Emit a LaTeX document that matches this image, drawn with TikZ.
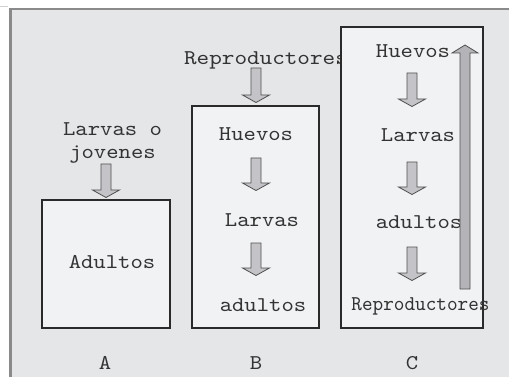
\documentclass[tikz,border=0pt]{standalone}
\usepackage{fontspec}
\newfontfamily\cour{lmmono10-regular.otf}[FakeStretch=1.12]
\definecolor{bgc}{HTML}{E5E6E8}
\definecolor{boxc}{HTML}{F1F2F4}
\definecolor{edgec}{HTML}{2A2A2A}
\definecolor{arrc}{HTML}{C4C4C8}
\definecolor{uparrc}{HTML}{B4B4B8}
\definecolor{arredge}{HTML}{505050}
\definecolor{framec}{HTML}{8A8A8A}
\definecolor{txtc}{HTML}{333333}
\tikzset{
  stagebox/.style={draw=edgec, fill=boxc, line width=1.3pt},
  lbl/.style={font=\cour\fontsize{21}{23}\selectfont, text=txtc, inner sep=0pt},
  blk/.style={draw=arredge, fill=arrc, line width=0.8pt, line join=miter},
  pics/downarr/.style={code={
    \draw[blk] (-5,0) -- (5,0) -- (5,#1) -- (13.5,#1) -- (0,#1+7.5) -- (-13.5,#1) -- (-5,#1) -- cycle;
  }}
}
\begin{document}
\begin{tikzpicture}[x=1pt,y=-1pt]
\useasboundingbox (0,0) rectangle (509,377);
% background panel and frame
\fill[bgc] (9,9) rectangle (509,377);
\draw[framec, line width=2pt] (9,9) -- (509,9);
\draw[framec, line width=3pt] (10.5,8) -- (10.5,377);
\draw[black!18, line width=1pt] (0,7) -- (8,7);

% ---- A ----
\node[lbl, align=center] (lA) at (112.5,143) {Larvas o\\[0pt]jovenes};
\pic at (106,164) {downarr=26};
\node[stagebox, minimum width=128pt, minimum height=128pt, inner sep=0pt] (bA) at (106,264) {};
\node[lbl] (aA) at (112,262) {Adultos};
\node[lbl] (capA) at (105,363) {A};

% ---- B ----
\node[lbl] (rB) at (266,60) {\scalebox{1.02}[1]{Reproductores}};
\pic at (256,68) {downarr=27};
\node[stagebox, minimum width=127pt, minimum height=222pt, inner sep=0pt] (bB) at (255.5,217) {};
\node[lbl] (hB) at (256,134) {Huevos};
\pic at (256,158) {downarr=25};
\node[lbl] (lB) at (262,220) {Larvas};
\pic at (256,243) {downarr=25};
\node[lbl] (aB) at (263,305) {adultos};
\node[lbl] (capB) at (256,363) {B};

% ---- C ----
\node[stagebox, minimum width=142pt, minimum height=301pt, inner sep=0pt] (bC) at (412,177.5) {};
\node[lbl] (hC) at (413,51) {Huevos};
\pic at (412,73) {downarr=26};
\node[lbl] (lC) at (418,135) {Larvas};
\pic at (412,162) {downarr=25};
\node[lbl] (aC) at (419,222) {adultos};
\pic at (412,247) {downarr=26};
\node[lbl] (rC) at (420.5,306) {\scalebox{0.86}[1]{Reproductores}};
\draw[blk, fill=uparrc] (460,289) -- (470,289) -- (470,53) -- (478,53) -- (465,45) -- (452,53) -- (460,53) -- cycle;
\node[lbl] (capC) at (412,363) {C};
\end{tikzpicture}
\end{document}
